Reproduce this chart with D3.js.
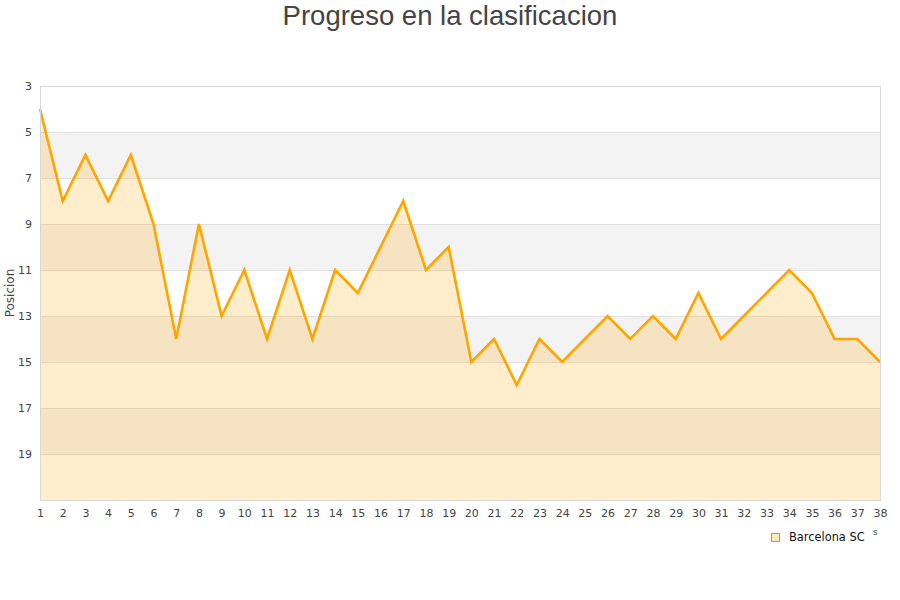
<!DOCTYPE html>
<html><head><meta charset="utf-8">
<script src="https://cdn.jsdelivr.net/npm/d3@7"></script>
<style>body{margin:0;background:#fff}svg{display:block}</style>
</head><body>
<script>
const jornadas = d3.range(1, 39);
const posiciones = [4,8,6,8,6,9,14,9,13,11,14,11,14,11,12,10,8,11,10,15,14,16,14,15,14,13,14,13,14,12,14,13,12,11,12,14,14,15];
const yTicks = [3,5,7,9,11,13,15,17,19];
const seriesName = "Barcelona SC";
const title = "Progreso en la clasificacion";
const yLabel = "Posicion";

const W = 900, H = 600;
const svg = d3.select("body").append("svg").attr("width", W).attr("height", H)
  .style("font-family", "'DejaVu Sans', sans-serif");

const x = d3.scaleLinear().domain([1, 38]).range([40, 880]);
const y = d3.scaleLinear().domain([3, 21]).range([86, 500]);

// bands
const bands = d3.range(3, 21, 2);
svg.append("g").selectAll("rect").data(bands).join("rect")
  .attr("x", x(1)).attr("width", x(38) - x(1))
  .attr("y", d => y(d)).attr("height", d => y(d + 2) - y(d))
  .attr("fill", (d, i) => i % 2 ? "#f3f3f3" : "#ffffff");

// grid
svg.append("g").selectAll("line").data(yTicks.concat([21])).join("line")
  .attr("x1", x(1)).attr("x2", x(38))
  .attr("y1", d => y(d) + 0.5).attr("y2", d => y(d) + 0.5)
  .attr("stroke", "#e0e0e0");

// area
const area = d3.area().x((d, i) => x(jornadas[i])).y0(y(21)).y1(d => y(d));
svg.append("path").datum(posiciones).attr("d", area)
  .attr("fill", "#ffa500").attr("fill-opacity", 0.2);

// line
const line = d3.line().x((d, i) => x(jornadas[i])).y(d => y(d));
svg.append("path").datum(posiciones).attr("d", line)
  .attr("fill", "none").attr("stroke", "#ffa500").attr("stroke-width", 2.6)
  .attr("stroke-linejoin", "miter");

// border
svg.append("rect").attr("x", x(1) + 0.5).attr("y", y(3) + 0.5)
  .attr("width", x(38) - x(1)).attr("height", y(21) - y(3))
  .attr("fill", "none").attr("stroke", "#d8d8d8");

// y axis labels
const yAxis = d3.axisLeft(y).tickValues(yTicks).tickSize(0).tickPadding(8);
const gy = svg.append("g").attr("transform", `translate(${x(1)},0)`).call(yAxis);
gy.select(".domain").remove();
gy.selectAll("text").attr("font-size", 11).attr("fill", "#444").attr("font-family", "'DejaVu Sans', sans-serif");

// x axis labels
const xAxis = d3.axisBottom(x).tickValues(jornadas).tickFormat(d3.format("d")).tickSize(0).tickPadding(9);
const gx = svg.append("g").attr("transform", `translate(0,${y(21)})`).call(xAxis);
gx.select(".domain").remove();
gx.selectAll("text").attr("font-size", 11).attr("fill", "#444").attr("font-family", "'DejaVu Sans', sans-serif");

// title
svg.append("text").attr("x", 450).attr("y", 25).attr("text-anchor", "middle")
  .attr("font-size", 27.5).attr("fill", "#444").attr("font-family", "'Liberation Sans', Arial, sans-serif")
  .text(title);

// y label
svg.append("text").attr("transform", `translate(14,${(y(3)+y(21))/2}) rotate(-90)`)
  .attr("text-anchor", "middle").attr("font-size", 12).attr("fill", "#444")
  .text(yLabel);

// legend
svg.append("rect").attr("x", 771.5).attr("y", 533.5).attr("width", 8).attr("height", 8)
  .attr("fill", "#ffe9c0").attr("stroke", "#999");
svg.append("text").attr("x", 789).attr("y", 541).attr("font-size", 11.4).attr("fill", "#111").text(seriesName);
svg.append("text").attr("x", 873).attr("y", 535).attr("font-size", 9).attr("fill", "#444").text("s");
</script>
</body></html>
